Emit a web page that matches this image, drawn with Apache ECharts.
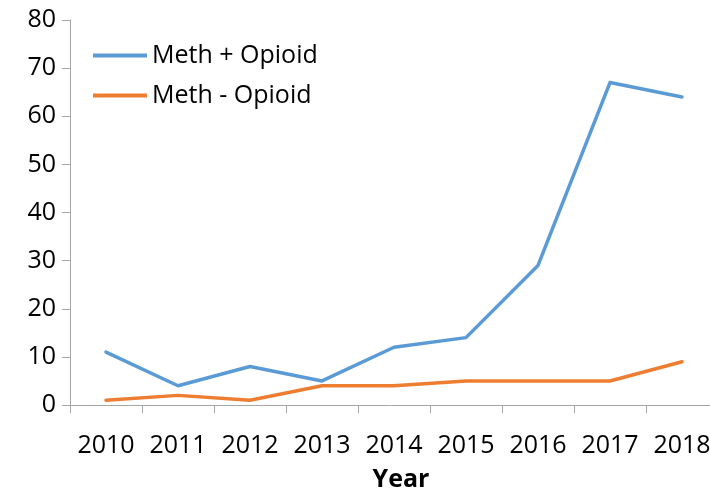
<!DOCTYPE html>
<html>
<head>
<meta charset="utf-8">
<script src="https://cdn.jsdelivr.net/npm/echarts@6/dist/echarts.min.js"></script>
<style>
  html, body { margin: 0; padding: 0; background: #fff; }
  #chart { width: 710px; height: 490px; }
</style>
</head>
<body>
<div id="chart"></div>
<script>
// Yearly counts, 2010–2018
const years = ['2010', '2011', '2012', '2013', '2014', '2015', '2016', '2017', '2018'];
const methPlusOpioid = [11, 4, 8, 5, 12, 14, 29, 67, 64];
const methMinusOpioid = [1, 2, 1, 4, 4, 5, 5, 5, 9];
const seriesNames = ['Meth + Opioid', 'Meth - Opioid'];

const FONT = '"Open Sans", "Noto Sans", sans-serif';
const axisGray = '#a6a6a6';

const chart = echarts.init(document.getElementById('chart'), null, { renderer: 'canvas' });

chart.setOption({
  animation: false,
  backgroundColor: '#ffffff',
  textStyle: { fontFamily: FONT },
  grid: { left: 70, top: 20, width: 648, bottom: 85, containLabel: false, outerBoundsMode: 'none' },
  legend: {
    orient: 'vertical',
    left: 93,
    top: 41,
    padding: 0,
    icon: 'rect',
    itemWidth: 54,
    itemHeight: 4,
    itemGap: 11,
    textStyle: { fontFamily: FONT, fontSize: 25, color: '#000', lineHeight: 29 },
    data: seriesNames
  },
  xAxis: {
    type: 'category',
    data: years,
    boundaryGap: true,
    axisLine: { lineStyle: { color: axisGray, width: 1 } },
    axisTick: { show: true, alignWithLabel: false, length: 8, lineStyle: { color: axisGray } },
    axisLabel: { color: '#000', fontSize: 25, fontFamily: FONT, margin: 28, interval: 0 },
    name: 'Year',
    nameLocation: 'middle',
    nameGap: 62,
    nameTextStyle: { color: '#000', fontSize: 25, fontWeight: 'bold', fontFamily: FONT, padding: [0, 0, 0, 14] }
  },
  yAxis: {
    type: 'value',
    min: 0,
    max: 80,
    interval: 10,
    axisLine: { show: true, lineStyle: { color: axisGray, width: 1 } },
    axisTick: { show: true, length: 8, lineStyle: { color: axisGray } },
    splitLine: { show: false },
    axisLabel: { color: '#000', fontSize: 25, fontFamily: FONT, margin: 14 }
  },
  series: [
    {
      name: seriesNames[0],
      type: 'line',
      data: methPlusOpioid,
      showSymbol: false,
      symbol: 'none',
      color: '#5b9bd5',
      lineStyle: { color: '#5b9bd5', width: 3.5, cap: 'round', join: 'round' }
    },
    {
      name: seriesNames[1],
      type: 'line',
      data: methMinusOpioid,
      showSymbol: false,
      symbol: 'none',
      color: '#ed7d31',
      lineStyle: { color: '#ed7d31', width: 3.5, cap: 'round', join: 'round' }
    }
  ]
});
</script>
</body>
</html>
